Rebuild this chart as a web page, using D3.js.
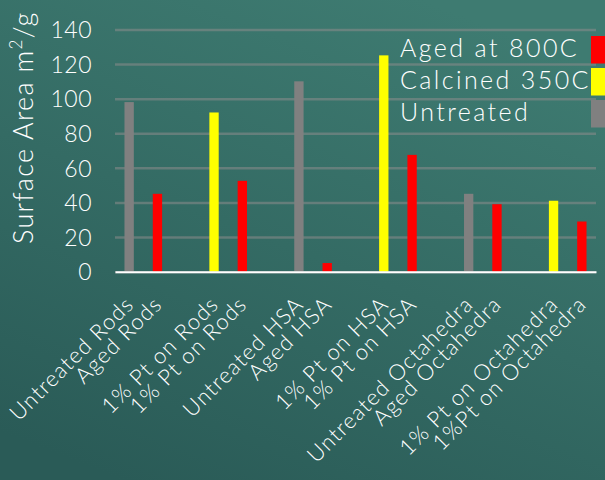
<!DOCTYPE html>
<html>
<head>
<meta charset="utf-8">
<script src="https://cdn.jsdelivr.net/npm/d3@7"></script>
<style>
  html, body { margin: 0; padding: 0; background: #336b64; }
  svg { display: block; }
  text { font-family: Lato, "Open Sans", sans-serif; fill: #ffffff; }
</style>
</head>
<body>
<svg id="chart" width="605" height="480"></svg>
<script>
// Surface area of each sample (m²/g); blank entries are spacer slots between sample groups
const categories = [
  "Untreated Rods", "Aged Rods", "",
  "1% Pt on Rods", "1% Pt on Rods", "",
  "Untreated HSA", "Aged HSA", "",
  "1% Pt on HSA", "1% Pt on HSA", "",
  "Untreated Octahedra", "Aged Octahedra", "",
  "1% Pt on Octahedra", "1%Pt on Octahedra"
];
const surfaceArea = [98, 45, null, 92, 52.5, null, 110, 5, null, 125, 67.5, null, 45, 39, null, 41, 29];
const treatment = [
  "Untreated", "Aged at 800C", null,
  "Calcined 350C", "Aged at 800C", null,
  "Untreated", "Aged at 800C", null,
  "Calcined 350C", "Aged at 800C", null,
  "Untreated", "Aged at 800C", null,
  "Calcined 350C", "Aged at 800C"
];
const legendSeries = ["Aged at 800C", "Calcined 350C", "Untreated"];
const seriesColors = ["#ff0000", "#ffff00", "#808080"];
const yTicks = [0, 20, 40, 60, 80, 100, 120, 140];

const svg = d3.select("#chart");
const W = 605, H = 480;
const plot = { left: 115, right: 596, top: 29.4, bottom: 271.7 };

// background
const defs = svg.append("defs");
const bg = defs.append("linearGradient").attr("id", "bg")
  .attr("x1", "0.7").attr("y1", "0").attr("x2", "0.2").attr("y2", "1");
bg.append("stop").attr("offset", "0").attr("stop-color", "#3e7b71");
bg.append("stop").attr("offset", "1").attr("stop-color", "#2a5b57");
svg.append("rect").attr("width", W).attr("height", H).attr("fill", "url(#bg)");

const idx = d3.range(categories.length);
const x = d3.scaleBand().domain(idx).range([plot.left, plot.right]).paddingInner(0.67).paddingOuter(0.335);
const y = d3.scaleLinear().domain([0, 140]).range([plot.bottom, plot.top]);
const color = d3.scaleOrdinal().domain(legendSeries).range(seriesColors);

// gridlines
svg.append("g")
  .attr("transform", `translate(${plot.left},0)`)
  .call(d3.axisLeft(y).tickValues(yTicks).tickSize(-(plot.right - plot.left)).tickFormat(""))
  .call(g => g.select(".domain").remove())
  .call(g => g.selectAll("line").attr("stroke", "#8c8c8c").attr("stroke-opacity", 0.55).attr("stroke-width", 2.5));

// y tick labels
svg.append("g")
  .attr("transform", `translate(${plot.left},0)`)
  .call(d3.axisLeft(y).tickValues(yTicks).tickSize(0).tickPadding(23))
  .call(g => g.select(".domain").remove())
  .call(g => g.selectAll("text")
    .attr("fill", "#ffffff").attr("font-size", 23).attr("font-weight", 300)
    .attr("font-family", "Lato, sans-serif").attr("letter-spacing", 0.5).attr("dy", "0.36em"));

// bars
const barData = idx.filter(i => surfaceArea[i] !== null);
svg.append("g").selectAll("rect")
  .data(barData)
  .join("rect")
  .attr("x", i => x(i))
  .attr("width", x.bandwidth())
  .attr("y", i => y(surfaceArea[i]))
  .attr("height", i => y(0) - y(surfaceArea[i]))
  .attr("fill", i => color(treatment[i]));

// category axis
const xAxis = svg.append("g")
  .attr("transform", `translate(0,${plot.bottom})`)
  .call(d3.axisBottom(x).tickSize(0).tickFormat(i => categories[i]));
xAxis.select(".domain").attr("stroke", "#ffffff").attr("stroke-width", 2);
xAxis.selectAll("text")
  .attr("fill", "#ffffff")
  .attr("font-size", 22)
  .attr("font-weight", 300)
  .attr("font-family", "Lato, sans-serif")
  .attr("letter-spacing", 1.2)
  .attr("text-anchor", "end")
  .attr("x", 0).attr("y", 0).attr("dy", 0)
  .attr("transform", "translate(6,34) rotate(-45)");

// y-axis title
svg.append("text")
  .attr("transform", `translate(33,${244}) rotate(-90)`)
  .attr("font-size", 27)
  .attr("font-weight", 300)
  .attr("letter-spacing", 1.3)
  .call(t => {
    t.append("tspan").text("Surface Area m");
    t.append("tspan").attr("font-size", 17).attr("dy", -11).text("2");
    t.append("tspan").attr("dy", 11).text("/g");
  });

// legend
const legend = svg.append("g").selectAll("g")
  .data(legendSeries)
  .join("g")
  .attr("transform", (d, i) => `translate(0,${i * 32})`);
legend.append("text")
  .attr("x", 400).attr("y", 57)
  .attr("font-size", 25)
  .attr("font-weight", 300)
  .attr("letter-spacing", 2.4)
  .text(d => d);
legend.append("rect")
  .attr("x", 591).attr("y", 36)
  .attr("width", 16).attr("height", 27.5)
  .attr("fill", d => color(d));
</script>
</body>
</html>
